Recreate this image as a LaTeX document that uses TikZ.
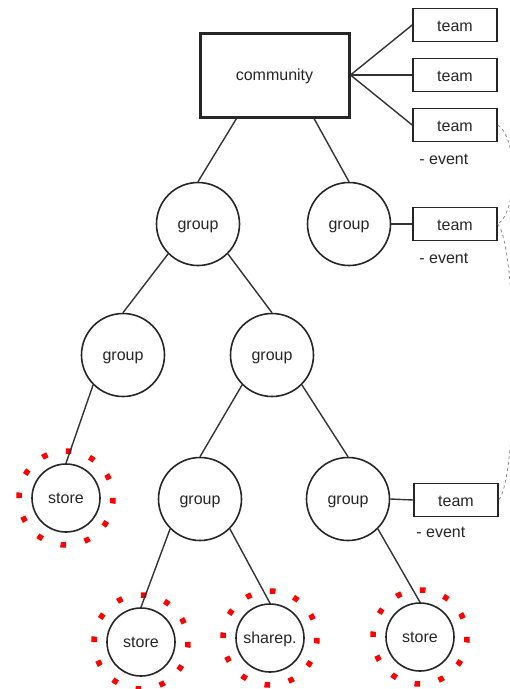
\documentclass[tikz,border=0pt]{standalone}
\usepackage{fontspec}
\setmainfont{Liberation Sans}
\usetikzlibrary{calc}

\begin{document}
\begin{tikzpicture}[x=1pt,y=-1pt,
  txt/.style={font=\fontsize{16}{19}\selectfont, text=black!85},
  grp/.style={txt, circle, draw=black!85, line width=1.6pt, minimum size=83pt, inner sep=0pt, text height=10pt, text depth=0pt},
  stor/.style={grp, minimum size=68pt},
  teambox/.style={txt, rectangle, draw=black!85, line width=1.6pt, minimum width=84pt, minimum height=33pt, inner sep=0pt, text height=12pt, text depth=0pt},
  evt/.style={txt, anchor=base west, inner sep=0pt},
  ring/.style={red, line width=5.5pt, dash pattern=on 5.5pt off 19.1pt},
  edge/.style={black!80, line width=1.4pt},
  link/.style={black!45, line width=0.8pt, dashed}]
\useasboundingbox (0,0) rectangle (510,689);

% community and its teams
\node [txt, draw=black!85, line width=3pt, minimum width=149pt, minimum height=84pt, text height=10pt, text depth=0pt] (comm) at (274.5,75) {community};
\node [teambox] (t1) at (455,25) {team};
\node [teambox] (t2) at (455,75) {team};
\node [teambox] (t3) at (455,125) {team};
\node [evt] (e3) at ($(t3.south west)+(7,22)$) {- event};

% groups
\node [grp] (g1) at (198,224) {group};
\node [grp] (g2) at (349,224) {group};
\node [grp] (g3) at (123,355) {group};
\node [grp] (g4) at (272,355) {group};
\node [grp] (g5) at (200,499) {group};
\node [grp] (g6) at (348,499) {group};

\node [teambox] (t4) at (455,224) {team};
\node [evt] (e4) at ($(t4.south west)+(7,22)$) {- event};
\node [teambox] (t5) at (456,500) {team};
\node [evt] (e5) at ($(t5.south west)+(3,20)$) {- event};

% stores
\node [stor] (s1) at (66,498) {store};
\node [stor] (s2) at (141,642) {store};
\node [stor] (sp) at (270,638) {sharep.};
\node [stor] (s3) at (420,637) {store};
\foreach \s in {s1,s2,sp,s3}
  \draw [ring] (\s) circle (47);

% tree
\draw [edge] ($(comm.south west)!0.25!(comm.south east)$) -- (g1.north);
\draw [edge] ($(comm.south west)!0.76!(comm.south east)$) -- (g2.north);
\foreach \t in {t1,t2,t3}
  \draw [edge] (comm.east) -- (\t.west);
\draw [edge] (g1.south west) -- (g3.north);
\draw [edge] (g1.south east) -- (g4.north);
\draw [edge] (g3.south west) -- (s1.north);
\draw [edge] (g4.south west) -- (g5.north);
\draw [edge] (g4.south east) -- (g6.north);
\draw [edge] (g5.south west) -- (s2.north);
\draw [edge] (g5.south east) -- (sp.north);
\draw [edge] (g6.south east) -- (s3.north);
\draw [edge] (g2.east) -- (t4.west);
\draw [edge] (g6.east) -- (t5.west);

% links between teams
\draw [link] (t3.east) .. controls ($(t3.east)+(20,12)$) and ($(t4.east)+(20,-12)$) .. (t4.east);
\draw [link] (t4.east) .. controls ($(t4.east)+(20,25)$) and ($(t5.east)+(20,-25)$) .. (t5.east);
\end{tikzpicture}
\end{document}
